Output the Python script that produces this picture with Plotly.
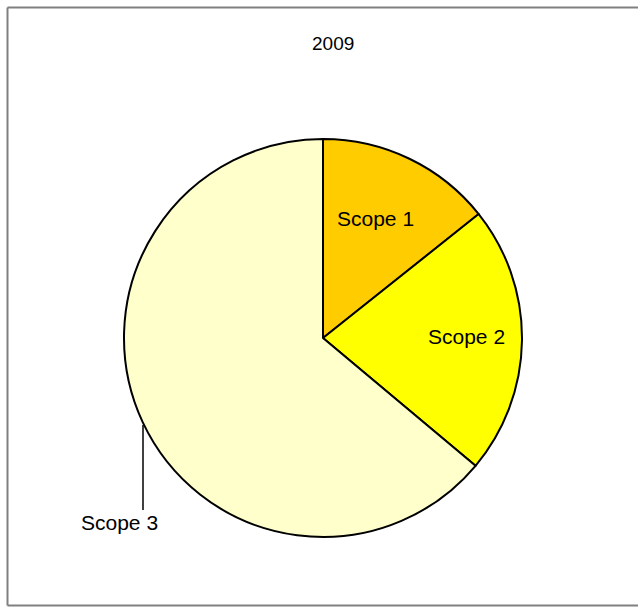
import plotly.graph_objects as go

labels = ["Scope 1", "Scope 2", "Scope 3"]
values = [14.3, 21.8, 63.9]
colors = ["#FFCC00", "#FFFF00", "#FFFFCC"]
title_text = "2009"

W, H = 638, 607
LABEL_FONT = dict(family="Liberation Sans, Arial, sans-serif", size=21, color="#000000")
TITLE_FONT = dict(family="Liberation Sans, Arial, sans-serif", size=19, color="#000000")

cx, cy, r = 323, 338, 199

fig = go.Figure(go.Pie(
    labels=labels,
    values=values,
    marker=dict(colors=colors, line=dict(color="#000000", width=2)),
    sort=False,
    direction="clockwise",
    rotation=0,
    textinfo="none",
    hoverinfo="label+percent",
    showlegend=False,
    domain=dict(x=[(cx - r) / W, (cx + r) / W],
                y=[(H - cy - r) / H, (H - cy + r) / H]),
))

def px(x, y):
    return x / W, 1 - y / H

label_pos = [(375, 218), (466, 337), (119, 522)]
annotations = []
for lab, (x, y) in zip(labels, label_pos):
    ax_, ay_ = px(x, y)
    annotations.append(dict(x=ax_, y=ay_, xref="paper", yref="paper", text=lab,
                            showarrow=False, font=LABEL_FONT, xanchor="center", yanchor="middle"))
tx, ty = px(333, 44)
annotations.append(dict(x=tx, y=ty, xref="paper", yref="paper", text=title_text,
                        showarrow=False, font=TITLE_FONT, xanchor="center", yanchor="middle"))

shapes = []
# leader line for Scope 3
x0, y0 = px(143, 425)
x1, y1 = px(143, 510)
shapes.append(dict(type="line", xref="paper", yref="paper", x0=x0, y0=y0, x1=x1, y1=y1,
                   line=dict(color="#000000", width=1.5)))
# chart border (top, left, bottom)
bl, bt = px(7.5, 7.5)
br, bb = px(640, 605.5)
for (a, b, c, d) in [(bl, bt, br, bt), (bl, bt, bl, bb), (bl, bb, br, bb)]:
    shapes.append(dict(type="line", xref="paper", yref="paper", x0=a, y0=b, x1=c, y1=d,
                       line=dict(color="#808080", width=2)))

fig.update_layout(
    width=W, height=H,
    margin=dict(l=0, r=0, t=0, b=0),
    paper_bgcolor="#FFFFFF",
    plot_bgcolor="#FFFFFF",
    annotations=annotations,
    shapes=shapes,
)

fig.write_html("out.html")
